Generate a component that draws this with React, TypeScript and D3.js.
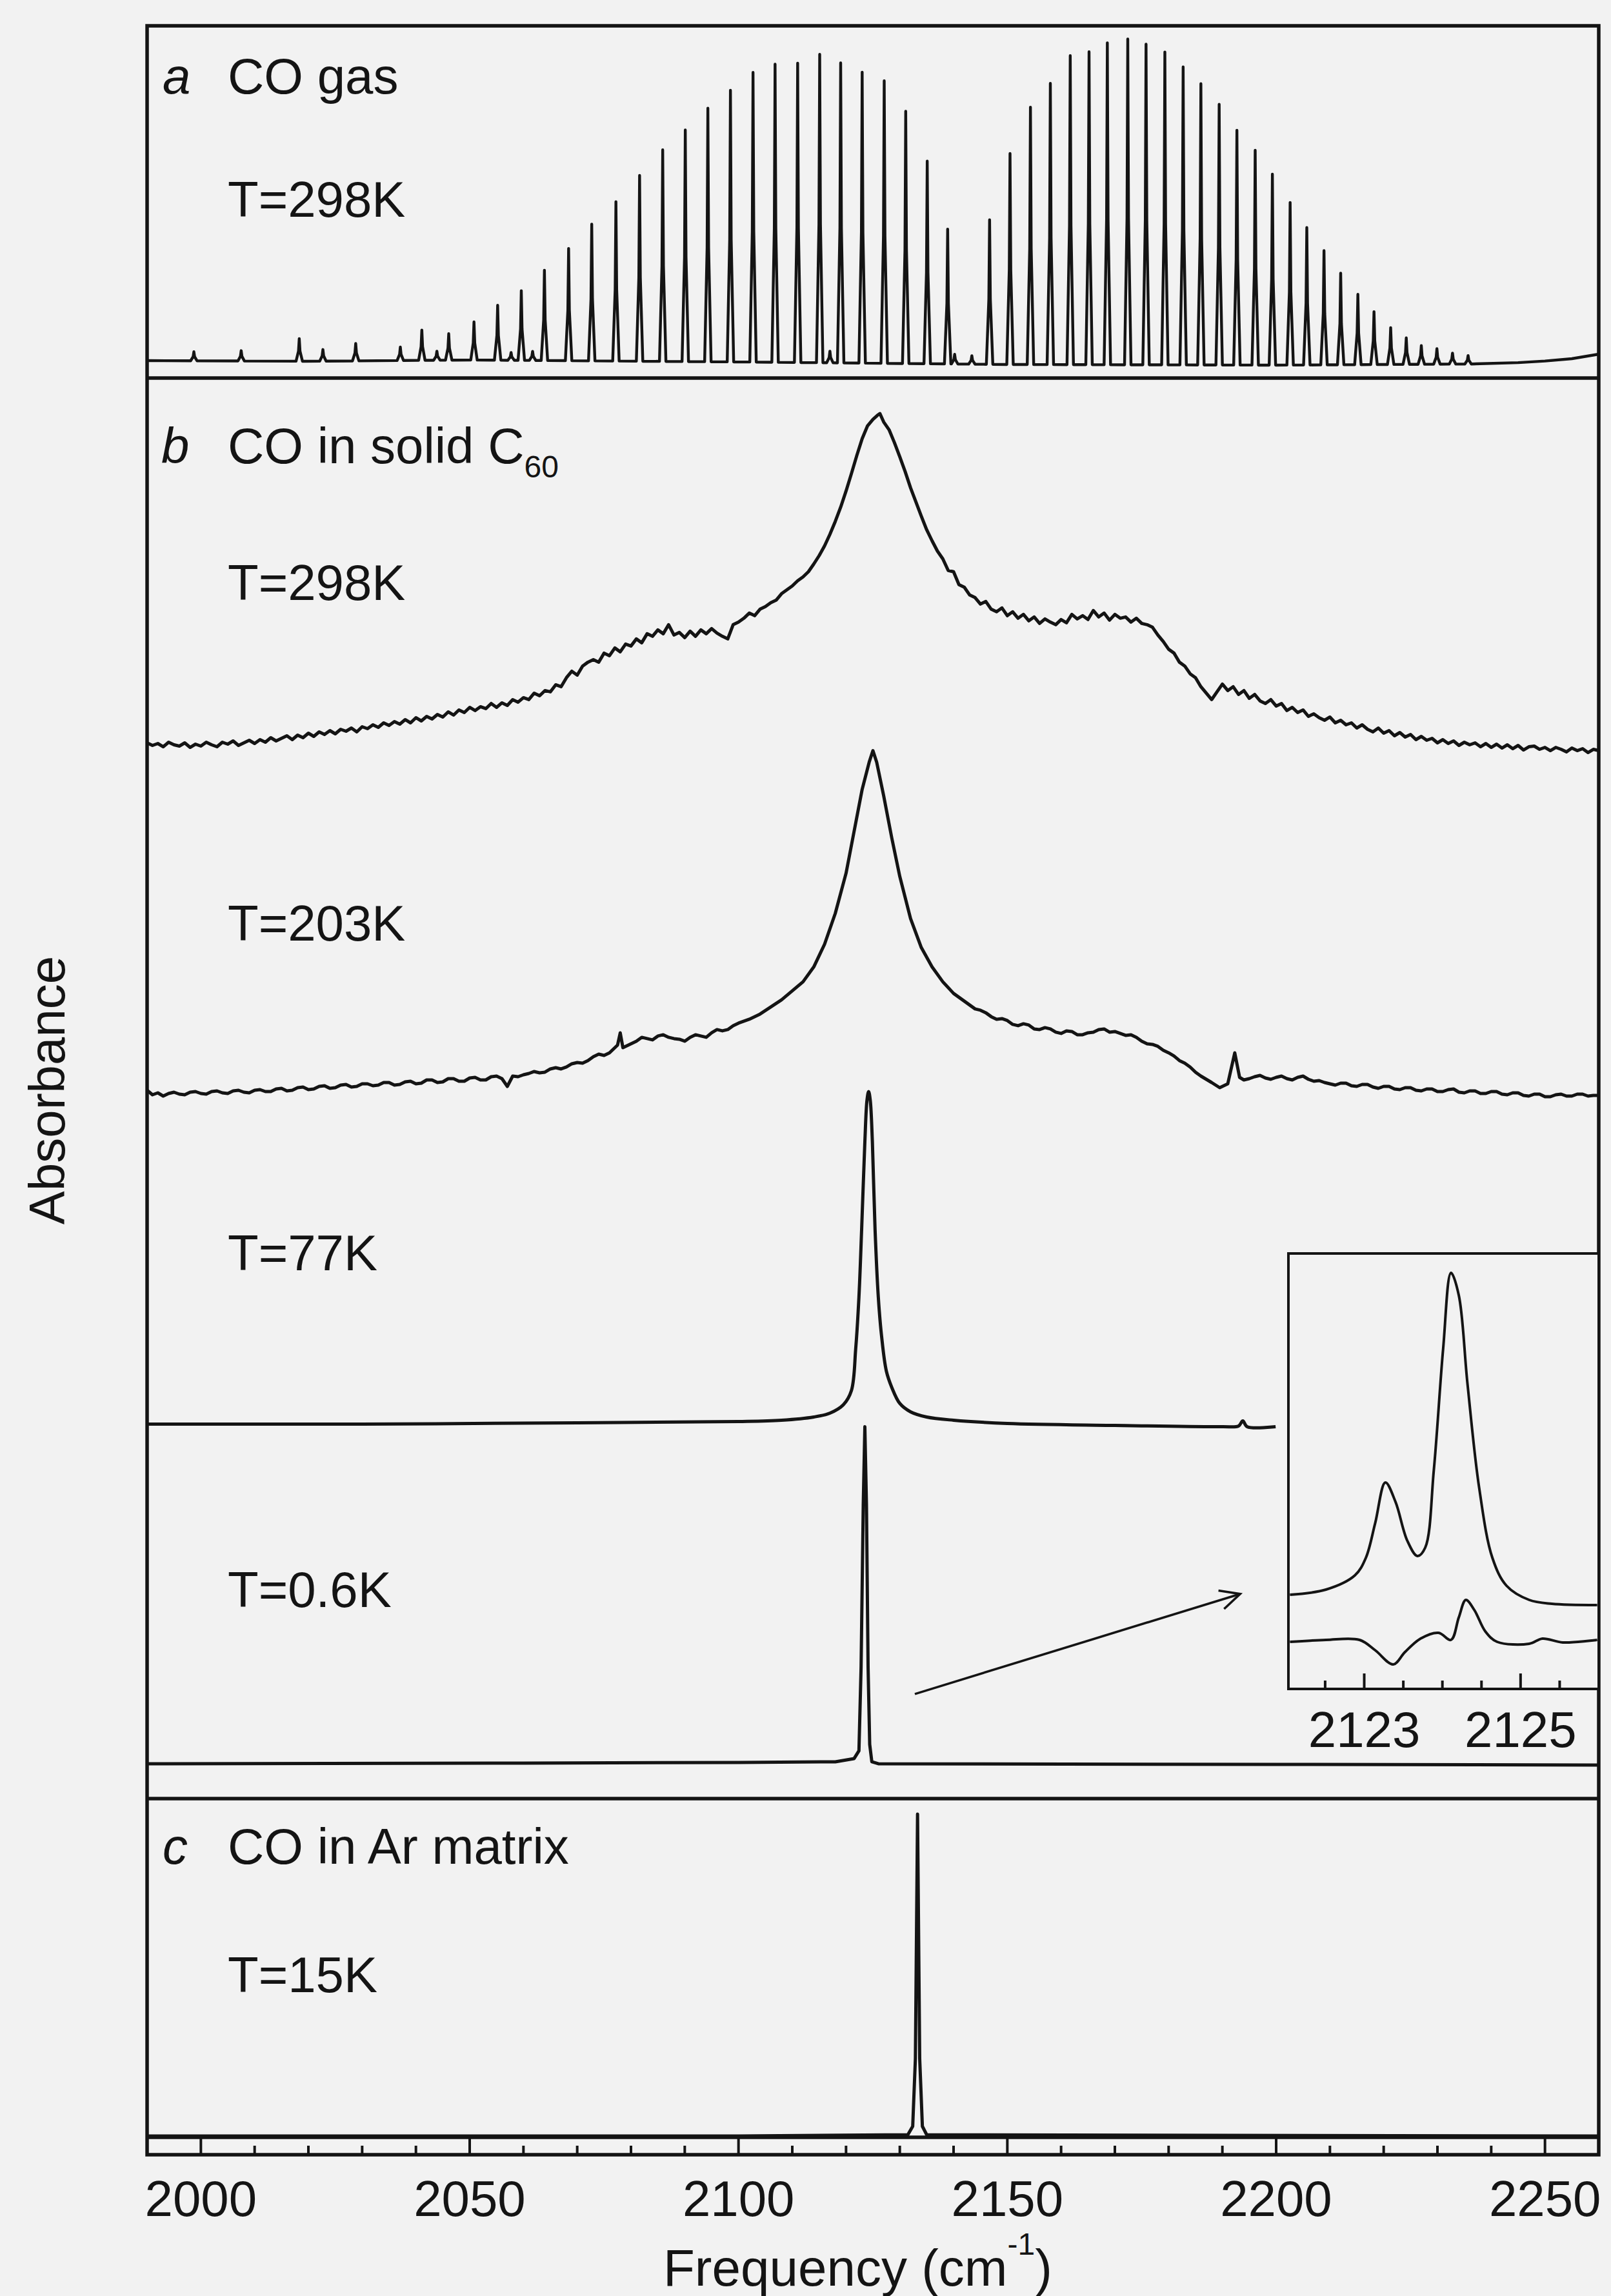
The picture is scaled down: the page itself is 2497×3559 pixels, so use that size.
import * as React from 'react';
import * as d3 from 'd3';

const W = 2497;
const H = 3559;
const FONT = '"Liberation Sans", Arial, Helvetica, sans-serif';
const INK = '#141414';
const PAPER = '#f2f2f2';

// frequency axis (cm-1)
const freqDomain = [1990, 2260];
const majorTicks = [2000, 2050, 2100, 2150, 2200, 2250];
const minorTicks = [1990, 2010, 2020, 2030, 2040, 2060, 2070, 2080, 2090, 2110, 2120, 2130, 2140, 2160, 2170, 2180, 2190, 2210, 2220, 2230, 2240, 2260];

// panel a: CO gas, rovibrational lines [freq, height]
const gasPeaks = [
  [1998.7, 0.14], [2007.5, 0.16], [2018.3, 0.35], [2022.7, 0.18], [2028.8, 0.27], [2037.1, 0.21],
  [2041.1, 0.47], [2043.9, 0.14], [2046.1, 0.41], [2050.8, 0.59], [2055.2, 0.85], [2057.7, 0.12],
  [2059.6, 1.08], [2061.7, 0.14], [2063.9, 1.40], [2068.4, 1.74], [2072.7, 2.12], [2077.2, 2.47],
  [2081.6, 2.88], [2085.9, 3.28], [2090.1, 3.59], [2094.3, 3.93], [2098.5, 4.21], [2102.7, 4.49],
  [2106.8, 4.62], [2111.0, 4.64], [2115.1, 4.78], [2117.0, 0.18], [2119.0, 4.65], [2123.0, 4.51],
  [2127.1, 4.38], [2131.1, 3.91], [2135.1, 3.14], [2138.9, 2.09], [2140.2, 0.15], [2143.4, 0.13],
  [2146.7, 2.24], [2150.5, 3.27], [2154.3, 3.99], [2158.0, 4.36], [2161.7, 4.79], [2165.2, 4.85],
  [2168.6, 4.99], [2172.4, 5.05], [2175.8, 4.97], [2179.3, 4.85], [2182.7, 4.62], [2186.0, 4.36],
  [2189.4, 4.04], [2192.7, 3.64], [2196.1, 3.33], [2199.3, 2.96], [2202.6, 2.52], [2205.7, 2.13],
  [2208.9, 1.77], [2212.0, 1.42], [2215.2, 1.09], [2218.2, 0.82], [2221.3, 0.57], [2224.2, 0.41],
  [2227.0, 0.29], [2229.9, 0.24], [2232.8, 0.17], [2235.7, 0.13],
];
const gasBaseline = [
  [1990, 0.02], [2020, 0.01], [2050, 0.03], [2100, 0.0], [2150, -0.04], [2200, -0.05],
  [2240, -0.03], [2248, 0.0], [2255, 0.05], [2260, 0.12],
];

// panel b: CO in solid C60 [freq, absorbance]
const solid298 = [
  [1990, 0.05], [1991, 0.01], [1992, 0.04], [1993, -0.01], [1994, 0.06], [1995, 0.02], [1996, 0.0],
  [1997, 0.05], [1998, -0.02], [1999, 0.03], [2000, 0.0], [2001, 0.06], [2002, 0.02], [2003, -0.01],
  [2004, 0.06], [2005, 0.03], [2006, 0.08], [2007, 0.01], [2008, 0.05], [2009, 0.09], [2010, 0.04],
  [2011, 0.1], [2012, 0.06], [2013, 0.13], [2014, 0.08], [2015, 0.12], [2016, 0.16], [2017, 0.1],
  [2018, 0.17], [2019, 0.13], [2020, 0.2], [2021, 0.15], [2022, 0.22], [2023, 0.18], [2024, 0.24],
  [2025, 0.19], [2026, 0.26], [2027, 0.23], [2028, 0.28], [2029, 0.22], [2030, 0.3], [2031, 0.27],
  [2032, 0.33], [2033, 0.29], [2034, 0.36], [2035, 0.32], [2036, 0.38], [2037, 0.34], [2038, 0.41],
  [2039, 0.36], [2040, 0.44], [2041, 0.39], [2042, 0.46], [2043, 0.42], [2044, 0.49], [2045, 0.45],
  [2046, 0.53], [2047, 0.48], [2048, 0.56], [2049, 0.52], [2050, 0.6], [2051, 0.55], [2052, 0.61],
  [2053, 0.58], [2054, 0.66], [2055, 0.6], [2056, 0.67], [2057, 0.63], [2058, 0.72], [2059, 0.68],
  [2060, 0.75], [2061, 0.72], [2062, 0.82], [2063, 0.78], [2064, 0.86], [2065, 0.84], [2066, 0.95],
  [2067, 0.92], [2068, 1.06], [2069, 1.16], [2070, 1.1], [2071, 1.24], [2072, 1.3], [2073, 1.34],
  [2074, 1.3], [2075, 1.44], [2076, 1.4], [2077, 1.52], [2078, 1.46], [2079, 1.58], [2080, 1.55],
  [2081, 1.66], [2082, 1.6], [2083, 1.74], [2084, 1.7], [2085, 1.8], [2086, 1.74], [2087, 1.88],
  [2088, 1.72], [2089, 1.76], [2090, 1.68], [2091, 1.78], [2092, 1.7], [2093, 1.8], [2094, 1.74],
  [2095, 1.82], [2096, 1.75], [2097, 1.7], [2098, 1.66], [2099, 1.88], [2100, 1.92], [2101, 1.98],
  [2102, 2.06], [2103, 2.02], [2104, 2.12], [2105, 2.16], [2106, 2.22], [2107, 2.26], [2108, 2.36],
  [2109, 2.42], [2110, 2.48], [2111, 2.56], [2112, 2.62], [2113, 2.7], [2114, 2.82], [2115, 2.95],
  [2116, 3.1], [2117, 3.28], [2118, 3.48], [2119, 3.7], [2120, 3.95], [2121, 4.22], [2122, 4.5],
  [2123, 4.76], [2124, 4.96], [2125, 5.06], [2125.8, 5.12], [2126.3, 5.15], [2127, 5.02], [2128, 4.9],
  [2129, 4.7], [2130, 4.48], [2131, 4.25], [2132, 4.0], [2133, 3.78], [2134, 3.56], [2135, 3.35],
  [2136, 3.18], [2137, 3.02], [2138, 2.9], [2139, 2.72], [2140, 2.7], [2141, 2.5], [2142, 2.46],
  [2143, 2.34], [2144, 2.3], [2145, 2.2], [2146, 2.24], [2147, 2.12], [2148, 2.08], [2149, 2.14],
  [2150, 2.02], [2151, 2.08], [2152, 1.98], [2153, 2.04], [2154, 1.94], [2155, 2.0], [2156, 1.9],
  [2157, 1.97], [2158, 1.92], [2159, 1.88], [2160, 1.96], [2161, 1.91], [2162, 2.04], [2163, 1.97],
  [2164, 2.02], [2165, 1.96], [2166, 2.1], [2167, 2.0], [2168, 2.06], [2169, 1.95], [2170, 2.04],
  [2171, 1.98], [2172, 2.0], [2173, 1.92], [2174, 1.98], [2175, 1.9], [2176, 1.88], [2177, 1.84],
  [2178, 1.72], [2179, 1.62], [2180, 1.5], [2181, 1.44], [2182, 1.3], [2183, 1.24], [2184, 1.12],
  [2185, 1.06], [2186, 0.92], [2187, 0.82], [2188, 0.72], [2189, 0.84], [2190, 0.96], [2191, 0.86],
  [2192, 0.92], [2193, 0.8], [2194, 0.86], [2195, 0.74], [2196, 0.8], [2197, 0.7], [2198, 0.66],
  [2199, 0.72], [2200, 0.62], [2201, 0.66], [2202, 0.55], [2203, 0.6], [2204, 0.52], [2205, 0.56],
  [2206, 0.46], [2207, 0.5], [2208, 0.44], [2209, 0.4], [2210, 0.45], [2211, 0.36], [2212, 0.4],
  [2213, 0.33], [2214, 0.36], [2215, 0.28], [2216, 0.33], [2217, 0.26], [2218, 0.22], [2219, 0.28],
  [2220, 0.2], [2221, 0.24], [2222, 0.16], [2223, 0.21], [2224, 0.14], [2225, 0.18], [2226, 0.1],
  [2227, 0.15], [2228, 0.09], [2229, 0.12], [2230, 0.05], [2231, 0.1], [2232, 0.04], [2233, 0.08],
  [2234, 0.01], [2235, 0.06], [2236, 0.02], [2237, 0.05], [2238, -0.01], [2239, 0.04], [2240, -0.02],
  [2241, 0.03], [2242, -0.03], [2243, 0.02], [2244, -0.04], [2245, 0.01], [2246, -0.06], [2247, -0.01],
  [2248, 0.0], [2249, -0.05], [2250, -0.02], [2251, -0.07], [2252, -0.02], [2253, -0.05], [2254, -0.09],
  [2255, -0.03], [2256, -0.07], [2257, -0.04], [2258, -0.1], [2259, -0.05], [2260, -0.07],
];

const solid203 = [
  [1990, 0.04], [1991, -0.03], [1992, 0.0], [1993, -0.05], [1994, -0.01], [1995, 0.01], [1996, -0.02],
  [1997, -0.03], [1998, 0.01], [1999, 0.02], [2000, -0.01], [2001, -0.02], [2002, 0.02], [2003, 0.03],
  [2004, 0.0], [2005, -0.01], [2006, 0.03], [2007, 0.04], [2008, 0.01], [2009, 0.0], [2010, 0.04],
  [2011, 0.05], [2012, 0.02], [2013, 0.02], [2014, 0.06], [2015, 0.07], [2016, 0.03], [2017, 0.04],
  [2018, 0.08], [2019, 0.09], [2020, 0.05], [2021, 0.06], [2022, 0.1], [2023, 0.11], [2024, 0.07],
  [2025, 0.08], [2026, 0.12], [2027, 0.13], [2028, 0.09], [2029, 0.1], [2030, 0.14], [2031, 0.14],
  [2032, 0.11], [2033, 0.12], [2034, 0.16], [2035, 0.16], [2036, 0.12], [2037, 0.13], [2038, 0.17],
  [2039, 0.18], [2040, 0.14], [2041, 0.15], [2042, 0.2], [2043, 0.2], [2044, 0.16], [2045, 0.17],
  [2046, 0.22], [2047, 0.22], [2048, 0.18], [2049, 0.18], [2050, 0.23], [2051, 0.24], [2052, 0.2],
  [2053, 0.2], [2054, 0.25], [2055, 0.26], [2056, 0.22], [2057, 0.1], [2058, 0.26], [2059, 0.25],
  [2060, 0.28], [2061, 0.3], [2062, 0.33], [2063, 0.31], [2064, 0.32], [2065, 0.37], [2066, 0.39],
  [2067, 0.37], [2068, 0.4], [2069, 0.45], [2070, 0.47], [2071, 0.46], [2072, 0.5], [2073, 0.56],
  [2074, 0.6], [2075, 0.58], [2076, 0.62], [2077, 0.7], [2077.5, 0.74], [2078, 0.93], [2078.5, 0.7],
  [2079, 0.72], [2080, 0.76], [2081, 0.8], [2082, 0.86], [2083, 0.84], [2084, 0.82], [2085, 0.88],
  [2086, 0.9], [2087, 0.86], [2088, 0.84], [2089, 0.83], [2090, 0.8], [2091, 0.86], [2092, 0.9],
  [2093, 0.88], [2094, 0.86], [2095, 0.93], [2096, 0.98], [2097, 0.96], [2098, 0.98], [2099, 1.04],
  [2100, 1.08], [2102, 1.14], [2104, 1.22], [2106, 1.33], [2108, 1.44], [2110, 1.58], [2112, 1.72],
  [2114, 1.95], [2116, 2.3], [2118, 2.78], [2120, 3.4], [2121.5, 4.05], [2123, 4.7], [2124.3, 5.12],
  [2125, 5.3], [2125.7, 5.12], [2127, 4.6], [2128.5, 3.95], [2130, 3.35], [2132, 2.7], [2134, 2.25],
  [2136, 1.95], [2138, 1.72], [2140, 1.54], [2142, 1.42], [2144, 1.3], [2145, 1.28], [2146, 1.24],
  [2147, 1.18], [2148, 1.14], [2149, 1.15], [2150, 1.12], [2151, 1.06], [2152, 1.04], [2153, 1.07],
  [2154, 1.05], [2155, 0.99], [2156, 0.98], [2157, 1.01], [2158, 0.99], [2159, 0.94], [2160, 0.92],
  [2161, 0.96], [2162, 0.95], [2163, 0.9], [2164, 0.9], [2165, 0.93], [2166, 0.94], [2167, 0.98],
  [2168, 0.99], [2169, 0.94], [2170, 0.95], [2171, 0.92], [2172, 0.89], [2173, 0.9], [2174, 0.86],
  [2175, 0.8], [2176, 0.76], [2177, 0.75], [2178, 0.72], [2179, 0.66], [2180, 0.62], [2181, 0.57],
  [2182, 0.5], [2183, 0.46], [2184, 0.4], [2185, 0.32], [2186, 0.26], [2187, 0.21], [2188, 0.16],
  [2189.5, 0.08], [2191, 0.14], [2192.3, 0.62], [2193.2, 0.24], [2194, 0.2], [2195, 0.22], [2196, 0.25],
  [2197, 0.27], [2198, 0.23], [2199, 0.21], [2200, 0.24], [2201, 0.26], [2202, 0.22], [2203, 0.2],
  [2204, 0.24], [2205, 0.26], [2206, 0.21], [2207, 0.18], [2208, 0.19], [2209, 0.16], [2210, 0.14],
  [2211, 0.12], [2212, 0.15], [2213, 0.15], [2214, 0.11], [2215, 0.1], [2216, 0.13], [2217, 0.13],
  [2218, 0.09], [2219, 0.07], [2220, 0.1], [2221, 0.1], [2222, 0.06], [2223, 0.05], [2224, 0.08],
  [2225, 0.08], [2226, 0.04], [2227, 0.03], [2228, 0.06], [2229, 0.06], [2230, 0.02], [2231, 0.02],
  [2232, 0.05], [2233, 0.06], [2234, 0.01], [2235, 0.0], [2236, 0.03], [2237, 0.03], [2238, -0.01],
  [2239, -0.01], [2240, 0.02], [2241, 0.02], [2242, -0.02], [2243, -0.03], [2244, 0.0], [2245, 0.0],
  [2246, -0.04], [2247, -0.05], [2248, -0.02], [2249, -0.02], [2250, -0.06], [2251, -0.06],
  [2252, -0.03], [2253, -0.02], [2254, -0.05], [2255, -0.05], [2256, -0.02], [2257, -0.02],
  [2258, -0.05], [2259, -0.04], [2260, -0.04],
];

const solid77 = [
  [1990, 0.03], [2030, 0.03], [2070, 0.05], [2100, 0.07], [2108, 0.09], [2114, 0.14], [2117, 0.2],
  [2119.5, 0.33], [2121, 0.55], [2121.8, 1.2], [2122.4, 2.0], [2122.9, 3.04], [2123.5, 4.4],
  [2123.9, 5.05], [2124.2, 5.18], [2124.5, 5.05], [2124.9, 4.4], [2125.4, 3.04], [2126, 2.0],
  [2126.6, 1.4], [2127.5, 0.85], [2128.5, 0.6], [2130, 0.35], [2132, 0.22], [2135, 0.14], [2140, 0.09],
  [2150, 0.04], [2170, 0.01], [2190, -0.01], [2193, 0.0], [2193.8, 0.08], [2194.6, -0.01], [2199.9, -0.01],
];

const solid06 = [
  [1990, 0.0], [2060, 0.01], [2100, 0.02], [2118, 0.03], [2121.5, 0.08], [2122.4, 0.2], [2122.8, 1.5],
  [2123.2, 4.0], [2123.5, 5.22], [2123.8, 4.0], [2124.1, 1.5], [2124.4, 0.3], [2124.8, 0.03],
  [2126, 0.0], [2200, -0.01], [2260, -0.02],
];

// panel c: CO in Ar matrix
const argon15 = [
  [1990, 0.0], [2100, 0.0], [2131.5, 0.02], [2132.4, 0.15], [2132.9, 1.2], [2133.3, 4.99],
  [2133.7, 1.2], [2134.2, 0.15], [2135, 0.02], [2260, 0.0],
];

// inset: 0.6 K line, expanded
const insetTicksMajor = [2123, 2125];
const insetTicksMinor = [2122.5, 2123.5, 2124, 2124.5, 2125.5];
const insetUpper = [
  [2122.05, 1.46], [2122.51, 1.54], [2122.88, 1.76], [2123.02, 2.03], [2123.14, 2.57], [2123.27, 3.2],
  [2123.4, 2.9], [2123.55, 2.3], [2123.68, 2.06], [2123.78, 2.19], [2123.89, 3.39], [2124.01, 5.28],
  [2124.11, 6.45], [2124.21, 6.1], [2124.32, 4.74], [2124.47, 3.12], [2124.64, 2.03], [2124.82, 1.6],
  [2125.11, 1.38], [2125.4, 1.32], [2125.98, 1.3],
];
const insetLower = [
  [2122.05, 0.73], [2122.51, 0.76], [2122.94, 0.76], [2123.14, 0.6], [2123.37, 0.38], [2123.52, 0.57],
  [2123.72, 0.78], [2123.95, 0.87], [2124.11, 0.76], [2124.21, 1.11], [2124.3, 1.38], [2124.41, 1.22],
  [2124.55, 0.89], [2124.7, 0.73], [2125.11, 0.7], [2125.28, 0.78], [2125.54, 0.72], [2125.98, 0.76],
];

// arrow from the 0.6 K line towards the inset, in panel b data units
const arrowFrom = [2132.8, 1.62];
const arrowTo = [2193.3, 3.17];

const solidTraces = [
  { label: 'T=298K', offset: 16.3, data: solid298, labelY: 930, curve: d3.curveLinear },
  { label: 'T=203K', offset: 10.93, data: solid203, labelY: 1458, curve: d3.curveLinear },
  { label: 'T=77K', offset: 5.77, data: solid77, labelY: 1969, curve: d3.curveCatmullRom },
  { label: 'T=0.6K', offset: 0.54, data: solid06, labelY: 2491, curve: d3.curveLinear },
];

export default function App() {
  const left = 228;
  const right = 2478;
  const top = 40;
  const bottom = 3340;
  const sepAB = 586;
  const sepBC = 2788;
  const axisTop = 3313;

  const x = d3.scaleLinear().domain(freqDomain).range([left, right]);
  const yA = d3.scaleLinear().domain([0, 5.2]).range([561, 41]);
  const yB = d3.scaleLinear().domain([0, 22]).range([sepBC, sepAB]);
  const yC = d3.scaleLinear().domain([0, 5]).range([3311, 2811]);
  const xI = d3.scaleLinear().domain([2122.03, 2126]).range([1997, right]);
  const yI = d3.scaleLinear().domain([0, 6.75]).range([2618, 1943]);

  // gas spectrum: baseline with narrow lines on it
  const baseAt = d3.scaleLinear().domain(gasBaseline.map(d => d[0])).range(gasBaseline.map(d => d[1]));
  const gasPts: number[][] = [[freqDomain[0], baseAt(freqDomain[0])]];
  [...gasPeaks].sort((p, q) => p[0] - q[0]).forEach(([f, h]) => {
    const b = baseAt(f);
    gasPts.push([f - 0.6, baseAt(f - 0.6)], [f - 0.14, b + h * 0.45], [f, b + h], [f + 0.14, b + h * 0.45], [f + 0.6, baseAt(f + 0.6)]);
  });
  [2245, 2250, 2255].forEach(f => gasPts.push([f, baseAt(f)]));
  gasPts.push([freqDomain[1], baseAt(freqDomain[1])]);
  const gasLine = d3.line<number[]>().x(d => x(d[0])).y(d => yA(d[1]));

  const lineB = (offset: number, curve: any) =>
    d3.line<number[]>().x(d => x(d[0])).y(d => yB(d[1] + offset)).curve(curve);
  const lineC = d3.line<number[]>().x(d => x(d[0])).y(d => yC(d[1]));
  const insetLine = d3.line<number[]>().x(d => xI(d[0])).y(d => yI(d[1])).curve(d3.curveCatmullRom);

  const ax0 = x(arrowFrom[0]);
  const ay0 = yB(arrowFrom[1]);
  const ax1 = x(arrowTo[0]);
  const ay1 = yB(arrowTo[1]);
  const ang = Math.atan2(ay1 - ay0, ax1 - ax0);
  const headLen = 34;
  const spread = (26 * Math.PI) / 180;
  const head = `M${ax1 - headLen * Math.cos(ang - spread)},${ay1 - headLen * Math.sin(ang - spread)}L${ax1},${ay1}L${ax1 - headLen * Math.cos(ang + spread)},${ay1 - headLen * Math.sin(ang + spread)}`;

  const fs = 78;
  const traceW = 5;

  return (
    <svg
      width={W}
      height={H}
      viewBox={`0 0 ${W} ${H}`}
      style={{ position: 'absolute', left: 0, top: 0, display: 'block' }}
      fontFamily={FONT}
    >
      <rect width={W} height={H} fill={PAPER} />

      {/* frame and panel separators */}
      <g stroke={INK} strokeWidth={5.5} fill="none">
        <rect x={left} y={top} width={right - left} height={bottom - top} />
        <line x1={left} x2={right} y1={sepAB} y2={sepAB} />
        <line x1={left} x2={right} y1={sepBC} y2={sepBC} />
        <line x1={left} x2={right} y1={axisTop} y2={axisTop} />
      </g>

      {/* x ticks */}
      <g stroke={INK} strokeWidth={4}>
        {majorTicks.map(t => (
          <line key={`M${t}`} x1={x(t)} x2={x(t)} y1={bottom} y2={axisTop} />
        ))}
        {minorTicks.map(t => (
          <line key={`m${t}`} x1={x(t)} x2={x(t)} y1={bottom} y2={bottom - 14} />
        ))}
      </g>
      <g fontSize={fs} fill={INK} textAnchor="middle">
        {majorTicks.map(t => (
          <text key={t} x={x(t)} y={3435}>
            {t}
          </text>
        ))}
      </g>
      <text x={1028} y={3543} fontSize={80} fill={INK}>
        Frequency (cm
        <tspan fontSize={48} dy={-48}>
          -1
        </tspan>
        <tspan dy={48}>)</tspan>
      </text>
      <text transform="translate(100,1690) rotate(-90)" fontSize={fs} fill={INK} textAnchor="middle">
        Absorbance
      </text>

      {/* panel a */}
      <path d={gasLine(gasPts) ?? ''} fill="none" stroke={INK} strokeWidth={4.4} strokeLinejoin="round" />
      <text x={252} y={145} fontSize={fs} fill={INK} fontStyle="italic">
        a
      </text>
      <text x={353} y={145} fontSize={fs} fill={INK}>
        CO gas
      </text>
      <text x={353} y={336} fontSize={fs} fill={INK}>
        T=298K
      </text>

      {/* panel b */}
      <text x={250} y={718} fontSize={fs} fill={INK} fontStyle="italic">
        b
      </text>
      <text x={353} y={718} fontSize={fs} fill={INK}>
        CO in solid C
        <tspan fontSize={48} dy={22}>
          60
        </tspan>
      </text>
      {solidTraces.map(t => (
        <g key={t.label}>
          <path
            d={lineB(t.offset, t.curve)(t.data) ?? ''}
            fill="none"
            stroke={INK}
            strokeWidth={traceW}
            strokeLinejoin="round"
          />
          <text x={353} y={t.labelY} fontSize={fs} fill={INK}>
            {t.label}
          </text>
        </g>
      ))}

      {/* inset */}
      <g>
        <rect x={xI.range()[0]} y={yI.range()[1]} width={xI.range()[1] - xI.range()[0]} height={yI.range()[0] - yI.range()[1]} fill={PAPER} stroke={INK} strokeWidth={4} />
        <path d={insetLine(insetUpper) ?? ''} fill="none" stroke={INK} strokeWidth={4} />
        <path d={insetLine(insetLower) ?? ''} fill="none" stroke={INK} strokeWidth={4} />
        <g stroke={INK} strokeWidth={4}>
          {insetTicksMajor.map(t => (
            <line key={t} x1={xI(t)} x2={xI(t)} y1={yI.range()[0]} y2={yI.range()[0] - 24} />
          ))}
          {insetTicksMinor.map(t => (
            <line key={t} x1={xI(t)} x2={xI(t)} y1={yI.range()[0]} y2={yI.range()[0] - 13} />
          ))}
        </g>
        <g fontSize={fs} fill={INK} textAnchor="middle">
          {insetTicksMajor.map(t => (
            <text key={t} x={xI(t)} y={2708}>
              {t}
            </text>
          ))}
        </g>
      </g>

      {/* arrow */}
      <g stroke={INK} strokeWidth={3.6} fill="none">
        <line x1={ax0} y1={ay0} x2={ax1} y2={ay1} />
        <path d={head} />
      </g>

      {/* panel c */}
      <path d={lineC(argon15) ?? ''} fill="none" stroke={INK} strokeWidth={traceW} strokeLinejoin="round" />
      <text x={252} y={2889} fontSize={fs} fill={INK} fontStyle="italic">
        c
      </text>
      <text x={353} y={2889} fontSize={fs} fill={INK}>
        CO in Ar matrix
      </text>
      <text x={353} y={3088} fontSize={fs} fill={INK}>
        T=15K
      </text>
    </svg>
  );
}
